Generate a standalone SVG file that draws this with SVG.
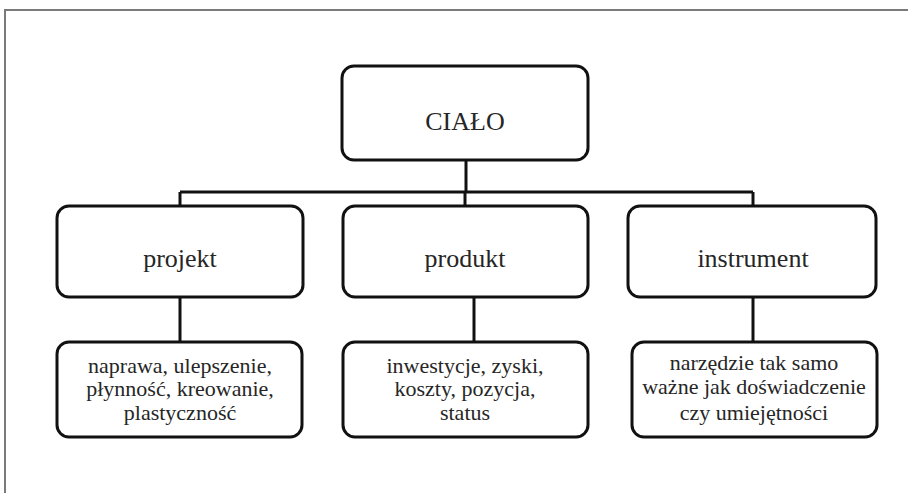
<svg xmlns="http://www.w3.org/2000/svg" width="908" height="493" viewBox="0 0 908 493">
<style>
.box{fill:#fff;stroke:#111;stroke-width:3}
.conn{stroke:#111;stroke-width:3;fill:none}
.lbl{font-size:26px;fill:#262626;text-anchor:middle}
.sub{font-size:22px;fill:#262626;text-anchor:middle}
</style>
<rect width="908" height="493" fill="#fff"/>
<path d="M5 493 V10 H908" fill="none" stroke="#7a7a7a" stroke-width="2"/>
<g id="connectors">
<line class="conn" x1="466" y1="160" x2="466" y2="192"/>
<line class="conn" x1="180" y1="192" x2="753" y2="192"/>
<line class="conn" x1="180" y1="192" x2="180" y2="206"/>
<line class="conn" x1="465" y1="192" x2="465" y2="206"/>
<line class="conn" x1="753" y1="192" x2="753" y2="206"/>
<line class="conn" x1="180" y1="297" x2="180" y2="342"/>
<line class="conn" x1="474" y1="297" x2="474" y2="342"/>
<line class="conn" x1="753" y1="297" x2="753" y2="342"/>
</g>
<g font-family="Liberation Serif, serif">
<g id="cialo">
<rect class="box" x="342" y="66" width="246" height="94" rx="12"/>
<text class="lbl" x="465" y="130">CIAŁO</text>
</g>
<g id="projekt">
<rect class="box" x="57" y="206" width="246" height="91" rx="12"/>
<text class="lbl" x="180" y="267">projekt</text>
</g>
<g id="produkt">
<rect class="box" x="343" y="206" width="245" height="91" rx="12"/>
<text class="lbl" x="465" y="267">produkt</text>
</g>
<g id="instrument">
<rect class="box" x="628" y="206" width="248" height="91" rx="12"/>
<text class="lbl" x="753" y="267">instrument</text>
</g>
<g id="projekt-details">
<rect class="box" x="57" y="342" width="245" height="95" rx="12"/>
<text class="sub" x="180" y="373">naprawa, ulepszenie,</text>
<text class="sub" x="180" y="396">płynność, kreowanie,</text>
<text class="sub" x="180" y="420">plastyczność</text>
</g>
<g id="produkt-details">
<rect class="box" x="343" y="342" width="245" height="95" rx="12"/>
<text class="sub" x="465" y="373">inwestycje, zyski,</text>
<text class="sub" x="465" y="396">koszty, pozycja,</text>
<text class="sub" x="465" y="420">status</text>
</g>
<g id="instrument-details">
<rect class="box" x="632" y="342" width="245" height="95" rx="12"/>
<text class="sub" x="754" y="370">narzędzie tak samo</text>
<text class="sub" x="754" y="394">ważne jak doświadczenie</text>
<text class="sub" x="754" y="420">czy umiejętności</text>
</g>
</g>
</svg>
